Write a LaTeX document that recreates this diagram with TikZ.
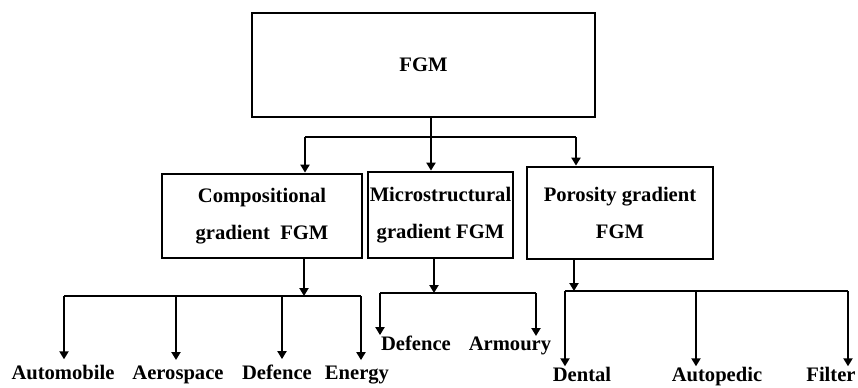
\documentclass[tikz,border=0pt]{standalone}
\usepackage{fontspec}
\setmainfont{Liberation Serif}
\usetikzlibrary{arrows.meta}
\begin{document}
\begin{tikzpicture}[x=0.5pt,y=-0.5pt,
  box/.style={draw,line width=1.4pt,align=center,inner sep=0pt,font=\fontsize{10.3}{18.5}\selectfont\bfseries},
  lbl/.style={font=\fontsize{10.3}{12}\selectfont\bfseries,inner sep=0pt,anchor=base},
  lblc/.style={lbl,inner sep=2.5pt},
  conn/.style={line width=1pt},
  arr/.style={line width=1pt,-{Triangle[length=4pt,width=4.5pt]}}]
\fill[white] (0,0) rectangle (858,387);
\useasboundingbox (0,0) rectangle (858,387);
% boxes
\node[box,minimum width=171.5pt,minimum height=52pt] (fgm) at (423.5,65) {FGM};
\node[box,minimum width=100pt,minimum height=42pt] (comp) at (262,216) {Compositional\\gradient~ FGM};
\node[box,minimum width=72.5pt,minimum height=43pt] (micro) at (440.5,215) {Microstructural\\gradient FGM};
\node[box,minimum width=93pt,minimum height=46pt] (poro) at (620,213) {Porosity gradient\\FGM};
% labels
\node[lblc] (auto) at (63,379) {Automobile};
\node[lblc] (aero) at (178,379) {Aerospace};
\node[lblc] (defc) at (277,379) {Defence};
\node[lblc] (energy) at (357,379) {Energy};
\node[lbl] (defm) at (416,350) {Defence};
\node[lbl] (armoury) at (510,350) {Armoury};
\node[lbl] (dental) at (582,381) {Dental};
\node[lbl] (autop) at (717,381) {Autopedic};
\node[lbl] (filter) at (831,381) {Filter};
% top connectors
\coordinate (j0) at (431,137);
\coordinate (bl) at (305,137);
\coordinate (br) at (576,137);
\draw[arr] (fgm.south -| j0) -- (micro.north -| j0);
\draw[conn] (bl) -- (br);
\draw[arr] (bl) -- (comp.north -| bl);
\draw[arr] (br) -- (poro.north -| br);
% compositional
\coordinate (cj) at (304,296);
\coordinate (cl) at (64,296);
\coordinate (ca) at (176,296);
\coordinate (cd) at (282,296);
\coordinate (cr) at (361,296);
\draw[arr] (comp.south -| cj) -- (cj);
\draw[conn] (cl) -- (cr);
\draw[arr] (cl) -- (cl |- auto.north);
\draw[arr] (ca) -- (ca |- aero.north);
\draw[arr] (cd) -- (cd |- defc.north);
\draw[arr] (cr) -- (cr |- energy.north);
% microstructural
\coordinate (mj) at (434,293);
\coordinate (ml) at (380,293);
\coordinate (mr) at (536,293);
\draw[arr] (micro.south -| mj) -- (mj);
\draw[conn] (ml) -- (mr);
\draw[arr] (ml) -- (ml |- defm.north);
\draw[arr] (mr) -- (mr |- armoury.north);
% porosity
\coordinate (pj) at (574,291);
\coordinate (pl) at (565,291);
\coordinate (pm) at (696,291);
\coordinate (pr) at (848,291);
\draw[arr] (poro.south -| pj) -- (pj);
\draw[conn] (pl) -- (pr);
\draw[arr] (pl) -- (pl |- dental.north);
\draw[arr] (pm) -- (pm |- autop.north);
\draw[arr] (pr) -- (pr |- filter.north);
\end{tikzpicture}
\end{document}
